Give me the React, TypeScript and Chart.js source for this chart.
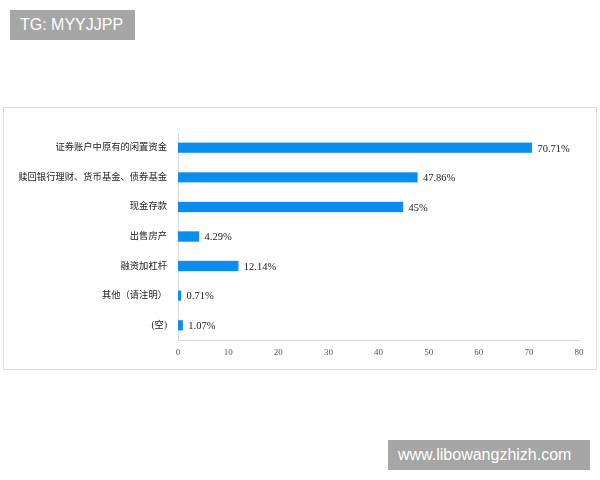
// @ts-nocheck
import {useEffect, useRef} from "react";
import {Chart, registerables} from 'chart.js';

Chart.register(...registerables);

const categories = [
    '证券账户中原有的闲置资金',
    '赎回银行理财、货币基金、债券基金',
    '现金存款',
    '出售房产',
    '融资加杠杆',
    '其他（请注明）',
    '(空)',
];
const values = [70.71, 47.86, 45, 4.29, 12.14, 0.71, 1.07];
const valueLabels = ['70.71%', '47.86%', '45%', '4.29%', '12.14%', '0.71%', '1.07%'];

const serif = '"Liberation Serif", "DejaVu Serif", "Noto Sans CJK SC", serif';

// draws the percentage text right after each bar
const barLabels = {
    id: 'barLabels',
    afterDatasetsDraw(chart) {
        const ctx = chart.ctx;
        const meta = chart.getDatasetMeta(0);
        ctx.save();
        ctx.font = '10.5px ' + serif;
        ctx.fillStyle = '#1a1a1a';
        ctx.textBaseline = 'middle';
        ctx.textAlign = 'left';
        meta.data.forEach((bar, i) => {
            ctx.fillText(valueLabels[i], bar.x + 5, bar.y + 1);
        });
        ctx.restore();
    },
};

function BarChart() {
    const chartRef = useRef(null);
    const chartInstance = useRef(null);
    useEffect(() => {
        const ctx = chartRef.current?.getContext('2d');
        chartInstance.current = new Chart(ctx, {
            type: 'bar',
            data: {
                labels: categories,
                datasets: [
                    {
                        data: values,
                        backgroundColor: '#0b8def',
                        borderColor: '#4fb4f7',
                        borderWidth: 0.5,
                        categoryPercentage: 1,
                        barPercentage: 0.37,
                    },
                ],
            },
            plugins: [barLabels],
            options: {
                indexAxis: 'y',
                animation: false,
                responsive: true,
                maintainAspectRatio: false,
                layout: {padding: {top: 25, right: 17, bottom: 0, left: 0}},
                plugins: {
                    legend: {display: false},
                    tooltip: {enabled: false},
                },
                scales: {
                    x: {
                        min: 0,
                        max: 80,
                        ticks: {stepSize: 10, color: '#555', font: {family: serif, size: 9}, padding: 7},
                        grid: {display: false, drawTicks: false},
                        border: {color: '#d9d9d9'},
                        afterFit(scale) { scale.height = 29; },
                    },
                    y: {
                        ticks: {color: '#222', font: {family: serif, size: 9.3}, padding: 11},
                        grid: {display: false, drawTicks: false},
                        border: {color: '#d9d9d9'},
                        afterFit(scale) { scale.width = 174; },
                    },
                },
            },
        });

        return () => {
            chartInstance.current.destroy();
        };
    }, []);

    return <canvas ref={chartRef}/>;
}

const tag = {
    position: 'absolute',
    background: '#a6a6a6',
    color: '#fff',
    fontFamily: '"Liberation Sans", Arial, sans-serif',
    fontSize: 16,
    lineHeight: '30px',
    paddingLeft: 10,
    boxSizing: 'border-box',
};

export default function App() {
    return (
        <div style={{position: 'fixed', left: 0, top: 0, width: 600, height: 480, background: '#fff'}}>
            <div style={{...tag, left: 10, top: 10, width: 125, height: 30}}>TG: MYYJJPP</div>
            <div style={{position: 'absolute', left: 3, top: 107, width: 594, height: 263, border: '1px solid #ddd', boxSizing: 'border-box'}}>
                <div style={{position: 'absolute', left: 0, top: 0, width: 592, height: 261}}>
                    <BarChart/>
                </div>
            </div>
            <div style={{...tag, left: 388, top: 440, width: 202, height: 30}}>www.libowangzhizh.com</div>
        </div>
    );
}
